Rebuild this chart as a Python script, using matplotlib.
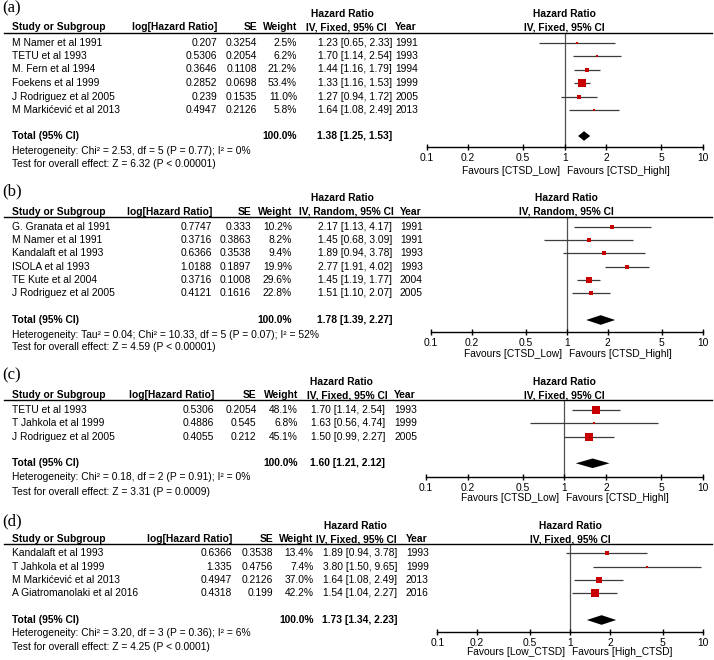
import matplotlib
matplotlib.use('Agg')
import matplotlib.pyplot as plt
from matplotlib.lines import Line2D
from matplotlib.ticker import FixedLocator, NullLocator, FixedFormatter
from matplotlib.transforms import blended_transform_factory

plt.rcParams['font.family'] = ['Liberation Sans', 'DejaVu Sans']

# ---------------- DATA ----------------
tick_values = [0.1, 0.2, 0.5, 1, 2, 5, 10]
tick_labels = ['0.1', '0.2', '0.5', '1', '2', '5', '10']

# Panel (a)
a_studies = ['M Namer et al 1991', 'TETU et al 1993', 'M. Fern et al 1994', 'Foekens et al 1999',
             'J Rodriguez et al 2005', 'M Markićević et al 2013']
a_loghr = [0.207, 0.5306, 0.3646, 0.2852, 0.239, 0.4947]
a_se = [0.3254, 0.2054, 0.1108, 0.0698, 0.1535, 0.2126]
a_weight = [2.5, 6.2, 21.2, 53.4, 11.0, 5.8]
a_hr = [1.23, 1.70, 1.44, 1.33, 1.27, 1.64]
a_lo = [0.65, 1.14, 1.16, 1.16, 0.94, 1.08]
a_hi = [2.33, 2.54, 1.79, 1.53, 1.72, 2.49]
a_year = [1991, 1993, 1994, 1999, 2005, 2013]
a_total = [1.38, 1.25, 1.53]
a_method = 'IV, Fixed, 95% CI'
a_het = 'Heterogeneity: Chi² = 2.53, df = 5 (P = 0.77); I² = 0%'
a_test = 'Test for overall effect: Z = 6.32 (P < 0.00001)'
a_favours = ['Favours [CTSD_Low]', 'Favours [CTSD_Highl]']

# Panel (b)
b_studies = ['G. Granata et al 1991', 'M Namer et al 1991', 'Kandalaft et al 1993', 'ISOLA et al 1993',
             'TE Kute et al 2004', 'J Rodriguez et al 2005']
b_loghr = [0.7747, 0.3716, 0.6366, 1.0188, 0.3716, 0.4121]
b_se = [0.333, 0.3863, 0.3538, 0.1897, 0.1008, 0.1616]
b_weight = [10.2, 8.2, 9.4, 19.9, 29.6, 22.8]
b_hr = [2.17, 1.45, 1.89, 2.77, 1.45, 1.51]
b_lo = [1.13, 0.68, 0.94, 1.91, 1.19, 1.10]
b_hi = [4.17, 3.09, 3.78, 4.02, 1.77, 2.07]
b_year = [1991, 1991, 1993, 1993, 2004, 2005]
b_total = [1.78, 1.39, 2.27]
b_method = 'IV, Random, 95% CI'
b_het = 'Heterogeneity: Tau² = 0.04; Chi² = 10.33, df = 5 (P = 0.07); I² = 52%'
b_test = 'Test for overall effect: Z = 4.59 (P < 0.00001)'
b_favours = ['Favours [CTSD_Low]', 'Favours [CTSD_Highl]']

# Panel (c)
c_studies = ['TETU et al 1993', 'T Jahkola et al 1999', 'J Rodriguez et al 2005']
c_loghr = [0.5306, 0.4886, 0.4055]
c_se = [0.2054, 0.545, 0.212]
c_weight = [48.1, 6.8, 45.1]
c_hr = [1.70, 1.63, 1.50]
c_lo = [1.14, 0.56, 0.99]
c_hi = [2.54, 4.74, 2.27]
c_year = [1993, 1999, 2005]
c_total = [1.60, 1.21, 2.12]
c_method = 'IV, Fixed, 95% CI'
c_het = 'Heterogeneity: Chi² = 0.18, df = 2 (P = 0.91); I² = 0%'
c_test = 'Test for overall effect: Z = 3.31 (P = 0.0009)'
c_favours = ['Favours [CTSD_Low]', 'Favours [CTSD_Highl]']

# Panel (d)
d_studies = ['Kandalaft et al 1993', 'T Jahkola et al 1999', 'M Markićević et al 2013',
             'A Giatromanolaki et al 2016']
d_loghr = [0.6366, 1.335, 0.4947, 0.4318]
d_se = [0.3538, 0.4756, 0.2126, 0.199]
d_weight = [13.4, 7.4, 37.0, 42.2]
d_hr = [1.89, 3.80, 1.64, 1.54]
d_lo = [0.94, 1.50, 1.08, 1.04]
d_hi = [3.78, 9.65, 2.49, 2.27]
d_year = [1993, 1999, 2013, 2016]
d_total = [1.73, 1.34, 2.23]
d_method = 'IV, Fixed, 95% CI'
d_het = 'Heterogeneity: Chi² = 3.20, df = 3 (P = 0.36); I² = 6%'
d_test = 'Test for overall effect: Z = 4.25 (P < 0.0001)'
d_favours = ['Favours [Low_CTSD]', 'Favours [High_CTSD]']

# ---------------- LAYOUT (pixels) ----------------
W, H = 714, 660
FS = 7.4
RED = '#c80000'

layouts = {
    'a': dict(label_y=8, h1=14, h2=27, und=32.5, r0=42.5, step=13.5, tot=136, het=150.5, test=163.7,
              study=11.7, log_r=217, se_r=257, w_r=297, ci_hdr_c=346, ci_r=392, year=395, hr_hdr=342,
              px0=426.7, px1=702.7, axis_y=146.7, fav_y=171),
    'b': dict(label_y=191.5, h1=198.3, h2=211.7, und=217, r0=226.7, step=13.33, tot=320, het=335, test=347,
              study=11.7, log_r=212, se_r=251, w_r=292, ci_hdr_c=346, ci_r=392, year=400, hr_hdr=342,
              px0=430.7, px1=702.7, axis_y=331.7, fav_y=354),
    'c': dict(label_y=375.5, h1=381.7, h2=395, und=400, r0=410, step=13.33, tot=463.3, het=476.7, test=491.7,
              study=11.7, log_r=214, se_r=256.5, w_r=298, ci_hdr_c=347, ci_r=385, year=394.3, hr_hdr=341,
              px0=426, px1=702.7, axis_y=476.7, fav_y=498),
    'd': dict(label_y=521.5, h1=525.7, h2=539, und=544.3, r0=553.3, step=13.33, tot=620, het=633.3, test=647.3,
              study=11.7, log_r=232, se_r=273.3, w_r=313.5, ci_hdr_c=356, ci_r=397, year=406, hr_hdr=355,
              px0=437.3, px1=702.7, axis_y=631.7, fav_y=651.7),
}

panels = [
    ('a', a_studies, a_loghr, a_se, a_weight, a_hr, a_lo, a_hi, a_year, a_total, a_method, a_het, a_test, a_favours),
    ('b', b_studies, b_loghr, b_se, b_weight, b_hr, b_lo, b_hi, b_year, b_total, b_method, b_het, b_test, b_favours),
    ('c', c_studies, c_loghr, c_se, c_weight, c_hr, c_lo, c_hi, c_year, c_total, c_method, c_het, c_test, c_favours),
    ('d', d_studies, d_loghr, d_se, d_weight, d_hr, d_lo, d_hi, d_year, d_total, d_method, d_het, d_test, d_favours),
]

fig = plt.figure(figsize=(W / 100, H / 100), dpi=100)
fig.patch.set_facecolor('white')


def fx(x):
    return x / W


def fy(y):
    return 1 - y / H


def txt(x, y, s, ha='left', bold=False, size=FS, **kw):
    fig.text(fx(x), fy(y), s, ha=ha, va='center', fontsize=size,
             fontweight='bold' if bold else 'normal', color='black', **kw)


for (key, studies, loghr, se, weight, hr, lo, hi, year, total, method, het, test, favours) in panels:
    L = layouts[key]
    # panel label
    fig.text(fx(2.5), fy(L['label_y']), '(%s)' % key, ha='left', va='center', fontsize=12,
             family=['Liberation Serif', 'DejaVu Serif'])
    # headers
    txt(L['hr_hdr'], L['h1'], 'Hazard Ratio', ha='center', bold=True)
    txt(L['study'], L['h2'], 'Study or Subgroup', bold=True)
    txt(L['log_r'], L['h2'], 'log[Hazard Ratio]', ha='right', bold=True)
    txt(L['se_r'], L['h2'], 'SE', ha='right', bold=True)
    txt(L['w_r'], L['h2'], 'Weight', ha='right', bold=True)
    txt(L['ci_hdr_c'], L['h2'], method, ha='center', bold=True)
    txt(L['year'], L['h2'], 'Year', bold=True)
    fig.add_artist(Line2D([fx(4), fx(712)], [fy(L['und']), fy(L['und'])], color='black', lw=1.0))

    # rows
    for i in range(len(studies)):
        y = L['r0'] + i * L['step']
        txt(L['study'], y, studies[i])
        txt(L['log_r'], y, str(loghr[i]), ha='right')
        txt(L['se_r'], y, str(se[i]), ha='right')
        txt(L['w_r'], y, '%.1f%%' % weight[i], ha='right')
        txt(L['ci_r'], y, '%.2f [%.2f, %.2f]' % (hr[i], lo[i], hi[i]), ha='right')
        txt(L['year'], y, str(year[i]))
    # totals
    txt(L['study'], L['tot'], 'Total (95% CI)', bold=True)
    txt(L['w_r'], L['tot'], '100.0%', ha='right', bold=True)
    txt(L['ci_r'], L['tot'], '%.2f [%.2f, %.2f]' % tuple(total), ha='right', bold=True)
    txt(L['study'], L['het'], het)
    txt(L['study'], L['test'], test)

    # forest plot axes
    ax = fig.add_axes([fx(L['px0']), fy(L['axis_y']), (L['px1'] - L['px0']) / W,
                       (L['axis_y'] - L['und']) / H])
    ax.set_xscale('log')
    ax.set_xlim(0.1, 10)
    r_bot = (L['axis_y'] - L['r0']) / L['step']
    r_top = (L['und'] - L['r0']) / L['step']
    ax.set_ylim(r_bot, r_top)
    ax.patch.set_alpha(0)
    for s in ['top', 'left', 'right']:
        ax.spines[s].set_visible(False)
    ax.spines['bottom'].set_linewidth(1.0)
    ax.yaxis.set_visible(False)
    ax.xaxis.set_major_locator(FixedLocator(tick_values))
    ax.xaxis.set_major_formatter(FixedFormatter(tick_labels))
    ax.xaxis.set_minor_locator(NullLocator())
    ax.tick_params(axis='x', direction='inout', length=4.2, width=1.0, pad=2.2, labelsize=FS)

    ax.axvline(1, color='#505050', lw=0.9, zorder=1)
    for i in range(len(studies)):
        ax.plot([lo[i], hi[i]], [i, i], color='#3c3c3c', lw=0.9, zorder=2, solid_capstyle='butt')
        side_px = 2.0 + 0.125 * weight[i]
        ax.plot([hr[i]], [i], marker='s', color=RED, markersize=side_px * 0.72, markeredgewidth=0,
                linestyle='none', zorder=3)
    # diamond
    r_tot = (L['tot'] - L['r0']) / L['step']
    hh = 4.8 / L['step']
    ax.fill([total[1], total[0], total[2], total[0]], [r_tot, r_tot - hh, r_tot, r_tot + hh],
            color='black', lw=0, zorder=3)

    # plot headers and favours
    bl = blended_transform_factory(ax.transData, fig.transFigure)
    ax.text(1, fy(L['h1']), 'Hazard Ratio', transform=bl, ha='center', va='center',
            fontsize=FS, fontweight='bold')
    ax.text(1, fy(L['h2']), method, transform=bl, ha='center', va='center',
            fontsize=FS, fontweight='bold')
    ax.annotate(favours[0], xy=(1, fy(L['fav_y'])), xycoords=bl, xytext=(-3.5, 0),
                textcoords='offset points', ha='right', va='center', fontsize=FS)
    ax.annotate(favours[1], xy=(1, fy(L['fav_y'])), xycoords=bl, xytext=(1.5, 0),
                textcoords='offset points', ha='left', va='center', fontsize=FS)

fig.savefig('out.png', dpi=100, facecolor='white')
